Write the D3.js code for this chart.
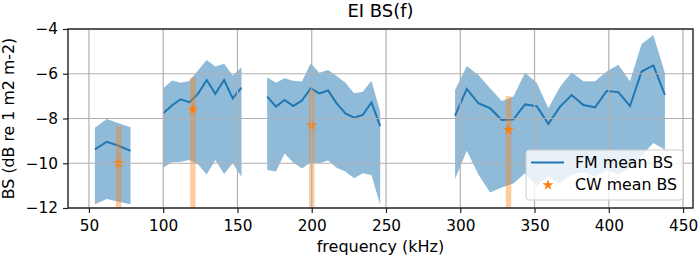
<!DOCTYPE html>
<html>
<head>
  <meta charset="UTF-8">
  <title>EI BS(f)</title>
  <script src="https://d3js.org/d3.v7.min.js"></script>
  <style>
    body { margin: 0; background: #fff; }
    text { font-family: "DejaVu Sans", sans-serif; fill: #000; }
    .grid line { stroke: #b0b0b0; stroke-width: 1.2px; }
  </style>
</head>
<body>
  <div id="chart"></div>
  <script>
    // FM bands: four frequency segments
    const seg1Freq = [54, 62, 70, 78];
    const seg1Mean = [-9.38, -9.04, -9.22, -9.45];
    const seg1Upper = [-8.41, -8.02, -8.21, -8.39];
    const seg1Lower = [-11.83, -11.6, -11.72, -11.83];

    const seg2Freq = [100, 105.9, 111.7, 117.6, 123.4, 129.3, 135.1, 141, 146.8, 152.7];
    const seg2Mean = [-7.77, -7.42, -7.14, -7.27, -6.9, -6.28, -6.9, -6.28, -7.1, -6.62];
    const seg2Upper = [-6.65, -6.3, -6.4, -6.32, -5.85, -5.38, -5.68, -5.55, -6.08, -5.72];
    const seg2Lower = [-10.2, -9.95, -9.93, -9.85, -10.05, -10.5, -9.85, -10.48, -10.0, -10.6];

    const seg3Freq = [170, 175.9, 181.7, 187.6, 193.4, 199.3, 205.1, 211, 216.8, 222.7, 228.5, 234.4, 240.2, 246.1];
    const seg3Mean = [-7.02, -7.47, -7.17, -7.44, -7.2, -6.65, -6.88, -6.75, -7.32, -7.77, -7.96, -7.84, -7.28, -8.34];
    const seg3Upper = [-6.16, -6.4, -6.2, -6.31, -6.35, -5.53, -5.95, -5.83, -6.1, -6.4, -6.87, -6.8, -6.31, -7.7];
    const seg3Lower = [-10.3, -10.37, -9.56, -9.97, -10.23, -9.97, -10.0, -9.88, -10.2, -10.37, -10.67, -10.45, -10.52, -11.87];

    const seg4Freq = [296.5, 304.4, 312.2, 320.1, 327.9, 335.8, 343.6, 351.5, 359.3, 367.2, 375, 382.9, 390.7, 398.6, 406.4, 414.3, 422.1, 430, 437.8];
    const seg4Mean = [-7.87, -6.68, -7.32, -7.54, -8.07, -8.04, -7.37, -7.45, -8.24, -7.47, -6.95, -7.4, -7.5, -6.77, -6.82, -7.44, -5.9, -5.63, -6.95];
    const seg4Upper = [-6.73, -5.65, -6.06, -6.65, -7.22, -7.02, -5.96, -6.4, -7.54, -6.58, -5.94, -6.33, -6.33, -5.9, -5.6, -6.33, -4.67, -4.27, -5.98];
    const seg4Lower = [-10.7, -9.44, -10.5, -11.31, -11.08, -10.9, -10.45, -11.0, -10.6, -10.9, -10.5, -10.4, -10.6, -10.3, -10.5, -10.2, -9.65, -9.1, -9.4];

    // CW measurements
    const cwFreq = [70, 120, 200, 332.5];
    const cwMean = [-10.0, -7.6, -8.3, -8.5];
    const cwUpper = [-8.34, -6.16, -6.73, -7.0];
    const cwLower = [-12.4, -12.6, -12.5, -12.3];

    const xTicks = [50, 100, 150, 200, 250, 300, 350, 400, 450];
    const yTicks = [-12, -10, -8, -6, -4];

    const segments = [
      [seg1Freq, seg1Mean, seg1Upper, seg1Lower],
      [seg2Freq, seg2Mean, seg2Upper, seg2Lower],
      [seg3Freq, seg3Mean, seg3Upper, seg3Lower],
      [seg4Freq, seg4Mean, seg4Upper, seg4Lower]
    ].map(([f, m, u, l]) => f.map((freq, i) => ({ freq, mean: m[i], upper: u[i], lower: l[i] })));

    const cwData = cwFreq.map((freq, i) => ({ freq, mean: cwMean[i], upper: cwUpper[i], lower: cwLower[i] }));

    const width = 699, height = 261;
    const margin = { top: 29, right: 6, bottom: 53, left: 68 };
    const plotW = width - margin.left - margin.right;
    const plotH = height - margin.top - margin.bottom;

    const svg = d3.select("#chart").append("svg")
      .attr("width", width)
      .attr("height", height);

    const g = svg.append("g")
      .attr("transform", `translate(${margin.left},${margin.top})`);

    const x = d3.scaleLinear().domain([35.9, 456.7]).range([0, plotW]);
    const y = d3.scaleLinear().domain([-12, -4]).range([plotH, 0]);

    g.append("clipPath").attr("id", "clip")
      .append("rect").attr("width", plotW).attr("height", plotH);

    const plot = g.append("g").attr("clip-path", "url(#clip)");

    // bands
    const area = d3.area()
      .x(d => x(d.freq))
      .y0(d => y(d.lower))
      .y1(d => y(d.upper));

    plot.selectAll(".band")
      .data(segments)
      .enter()
      .append("path")
      .attr("d", area)
      .attr("fill", "#1f77b4")
      .attr("fill-opacity", 0.5);

    // grid
    g.append("g").attr("class", "grid")
      .selectAll("line.vx")
      .data(xTicks)
      .enter().append("line")
      .attr("x1", d => x(d)).attr("x2", d => x(d))
      .attr("y1", 0).attr("y2", plotH);

    g.append("g").attr("class", "grid")
      .selectAll("line.hy")
      .data(yTicks)
      .enter().append("line")
      .attr("x1", 0).attr("x2", plotW)
      .attr("y1", d => y(d)).attr("y2", d => y(d));

    // mean lines
    const line = d3.line().x(d => x(d.freq)).y(d => y(d.mean));
    plot.selectAll(".mean")
      .data(segments)
      .enter()
      .append("path")
      .attr("d", line)
      .attr("fill", "none")
      .attr("stroke", "#1f77b4")
      .attr("stroke-width", 2);

    // CW bars
    plot.selectAll(".cwbar")
      .data(cwData)
      .enter()
      .append("rect")
      .attr("x", d => x(d.freq) - 2.75)
      .attr("width", 5.5)
      .attr("y", d => y(d.upper))
      .attr("height", d => y(d.lower) - y(d.upper))
      .attr("fill", "#ff7f0e")
      .attr("fill-opacity", 0.4);

    const star = d3.symbol(d3.symbolStar).size(38);
    plot.selectAll(".cwstar")
      .data(cwData)
      .enter()
      .append("path")
      .attr("d", star)
      .attr("transform", d => `translate(${x(d.freq)},${y(d.mean)})`)
      .attr("fill", "#ff7f0e");

    // axes
    const xAxis = g.append("g")
      .attr("transform", `translate(0,${plotH})`)
      .call(d3.axisBottom(x).tickValues(xTicks).tickSize(5).tickPadding(5));
    const yAxis = g.append("g")
      .call(d3.axisLeft(y).tickValues(yTicks).tickSize(5).tickPadding(5)
        .tickFormat(d => String(d).replace("-", "\u2212")));

    [xAxis, yAxis].forEach(ax => {
      ax.select(".domain").remove();
      ax.selectAll("line").attr("stroke", "#222").attr("stroke-width", 1.2);
      ax.selectAll("text").style("font-size", "15.3px").attr("fill", "#000");
    });
    xAxis.selectAll("text").attr("dy", "0.85em");

    g.append("rect")
      .attr("width", plotW)
      .attr("height", plotH)
      .attr("fill", "none")
      .attr("stroke", "#222")
      .attr("stroke-width", 1.4);

    // legend
    const lg = g.append("g").attr("transform", `translate(${526 - margin.left},${150 - margin.top})`);
    lg.append("rect")
      .attr("width", 157).attr("height", 50)
      .attr("rx", 3)
      .attr("fill", "#fff").attr("fill-opacity", 0.8)
      .attr("stroke", "#cccccc").attr("stroke-width", 1);
    lg.append("line")
      .attr("x1", 5).attr("x2", 38).attr("y1", 12.5).attr("y2", 12.5)
      .attr("stroke", "#1f77b4").attr("stroke-width", 2);
    lg.append("path")
      .attr("d", star)
      .attr("transform", "translate(22,35)")
      .attr("fill", "#ff7f0e");
    lg.append("text").attr("x", 49).attr("y", 18).style("font-size", "15.8px").text("FM mean BS");
    lg.append("text").attr("x", 49).attr("y", 40).style("font-size", "15.8px").text("CW mean BS");

    // titles
    svg.append("text")
      .attr("x", margin.left + plotW / 2)
      .attr("y", 17)
      .attr("text-anchor", "middle")
      .style("font-size", "18px")
      .text("EI BS(f)");

    svg.append("text")
      .attr("x", margin.left + plotW / 2)
      .attr("y", 252)
      .attr("text-anchor", "middle")
      .style("font-size", "16px")
      .text("frequency (kHz)");

    svg.append("text")
      .attr("transform", `translate(14,${margin.top + plotH / 2}) rotate(-90)`)
      .attr("text-anchor", "middle")
      .style("font-size", "15.8px")
      .text("BS (dB re 1 m2 m-2)");
  </script>
</body>
</html>
